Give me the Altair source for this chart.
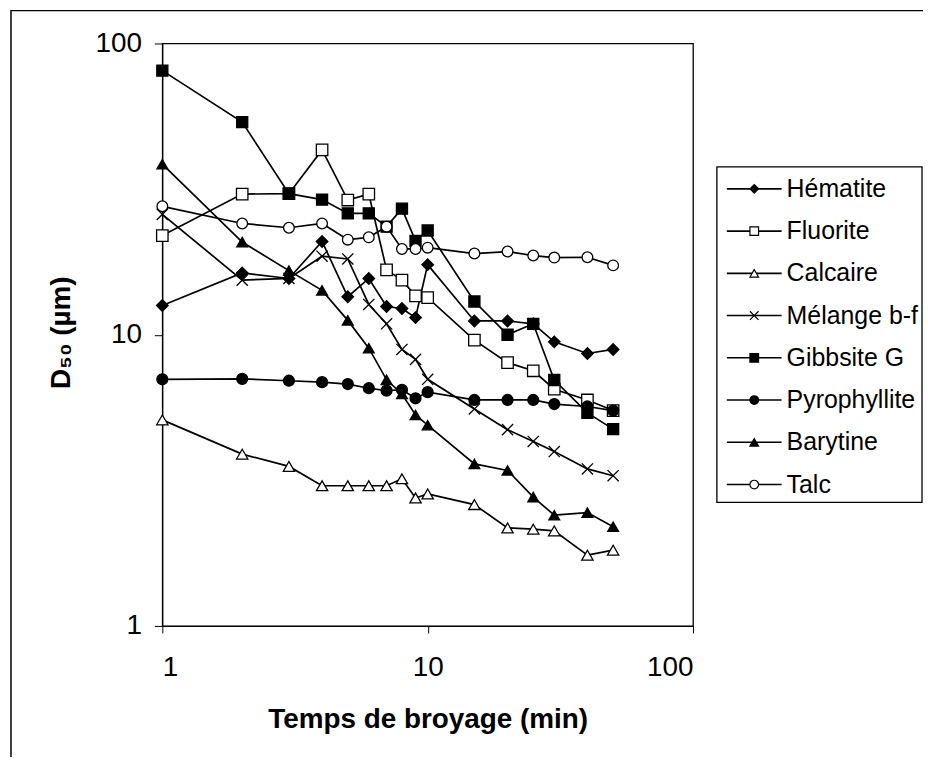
import altair as alt
import pandas as pd

# ---- data (log-log plot) ----
times = [1, 2, 3, 4, 5, 6, 7, 8, 9, 10, 15, 20, 25, 30, 40, 50]
series = ["Hématite", "Fluorite", "Calcaire", "Mélange b-f",
          "Gibbsite G", "Pyrophyllite", "Barytine", "Talc"]
hematite = [12.6, 16.3, 15.6, 20.9, 13.5, 15.6, 12.5, 12.3, 11.45, 17.4, 11.15, 11.15, 10.9, 9.45, 8.62, 8.9]
fluorite = [21.9, 30.4, 30.5, 43.1, 29.0, 30.4, 16.7, 15.4, 13.6, 13.4, 9.58, 8.02, 7.52, 6.5, 5.97, 5.49]
calcaire = [5.1, 3.89, 3.53, 3.03, 3.03, 3.03, 3.03, 3.2, 2.75, 2.84, 2.61, 2.17, 2.15, 2.12, 1.75, 1.82]
melange = [25.9, 15.4, 15.6, 18.6, 18.2, 12.7, 10.9, 8.9, 8.23, 7.03, 5.56, 4.72, 4.3, 3.97, 3.46, 3.28]
gibbsite = [80.7, 53.7, 30.5, 29.1, 26.1, 26.1, 23.5, 27.1, 21.0, 22.8, 13.0, 10.0, 10.9, 6.99, 5.39, 4.74]
pyrophyllite = [7.03, 7.05, 6.95, 6.87, 6.77, 6.55, 6.43, 6.47, 6.05, 6.35, 5.97, 5.97, 5.97, 5.78, 5.67, 5.49]
barytine = [38.5, 20.8, 16.6, 14.2, 11.2, 8.99, 7.0, 6.26, 5.3, 4.89, 3.6, 3.42, 2.77, 2.40, 2.45, 2.19]
talc = [27.6, 24.1, 23.3, 24.1, 21.2, 21.6, 23.5, 19.7, 19.7, 19.9, 19.0, 19.3, 18.7, 18.4, 18.45, 17.3]

values = [hematite, fluorite, calcaire, melange, gibbsite, pyrophyllite, barytine, talc]
rows = []
for name, vals in zip(series, values):
    for t, v in zip(times, vals):
        rows.append({"serie": name, "t": t, "d50": v})
df = pd.DataFrame(rows)
legend_df = pd.DataFrame({"serie": series})

# ---- styles ----
FONT = "Liberation Sans"
X_PATH = "M-1,-1L1,1M-1,1L1,-1"
plot_shapes = ["diamond", "square", "triangle-up", X_PATH, "square", "circle", "triangle-up", "circle"]
fills = ["black", "white", "white", "transparent", "black", "black", "black", "white"]
plot_sizes = [135, 115, 125, 150, 120, 80, 125, 85]

shape_scale = alt.Scale(domain=series, range=plot_shapes)
fill_scale = alt.Scale(domain=series, range=fills)

W, H = 533, 585

x_enc = alt.X("t:Q",
              scale=alt.Scale(type="log", domain=[1, 100], nice=False),
              axis=alt.Axis(values=[1, 10, 100], labelExpr="datum.value",
                            title="Temps de broyage (min)", grid=False,
                            tickSize=7, labelPadding=21, labelFontSize=28,
                            titleFontSize=28, titleFontWeight="bold",
                            titleY=80, titleBaseline="top", titleFont=FONT, labelFont=FONT,
                            domainColor="black", tickColor="black", labelColor="black",
                            titleColor="black"))
y_scale = alt.Scale(type="log", domain=[1, 100], nice=False)
y_enc = alt.Y("d50:Q", scale=y_scale,
              axis=alt.Axis(values=[1, 10, 100], labelExpr="datum.value",
                            title="D₅₀ (µm)", grid=False,
                            tickSize=8, labelPadding=13, labelFontSize=28,
                            titleFontSize=28, titleFontWeight="bold",
                            titleX=-101, titleY=290, titleAngle=-90,
                            titleAlign="center", titleBaseline="middle",
                            titleFont=FONT, labelFont=FONT,
                            domainColor="black", tickColor="black", labelColor="black",
                            titleColor="black"))

base = alt.Chart(df)

lines = base.mark_line(color="black", strokeWidth=1.7).encode(
    x=x_enc, y=y_enc, detail="serie:N", order="t:Q")

points = base.mark_point(stroke="black", strokeWidth=1.3, opacity=1, fillOpacity=1).encode(
    x="t:Q",
    y=alt.Y("d50:Q", scale=y_scale, axis=None),
    shape=alt.Shape("serie:N", scale=shape_scale, legend=None),
    fill=alt.Fill("serie:N", scale=fill_scale, legend=None),
    size=alt.Size("serie:N", scale=alt.Scale(domain=series, range=plot_sizes), legend=None),
)

# ---- hand-built legend (Excel style: line + marker + label) ----
ly = alt.Y("serie:N", scale=alt.Scale(type="point", domain=series, range=[146, 443], padding=0),
           axis=None)

leg_box = alt.Chart(pd.DataFrame({"k": [0]})).mark_rect(
    fill="white", stroke="black", strokeWidth=1.3).encode(
    x=alt.value(557), x2=alt.value(763), y=alt.value(124), y2=alt.value(461))

leg_rules = alt.Chart(legend_df).mark_rule(color="black", strokeWidth=1.6).encode(
    x=alt.value(567), x2=alt.value(622), y=ly)

leg_marks = alt.Chart(legend_df).mark_point(
    stroke="black", strokeWidth=1.2, opacity=1, fillOpacity=1, size=75).encode(
    x=alt.value(594.5), y=ly,
    shape=alt.Shape("serie:N", scale=shape_scale, legend=None),
    fill=alt.Fill("serie:N", scale=fill_scale, legend=None),
)

leg_text = alt.Chart(legend_df).mark_text(
    align="left", baseline="middle", fontSize=25, font=FONT, color="black").encode(
    x=alt.value(627), y=ly, text="serie:N")

frame = alt.Chart(pd.DataFrame({"k": [0]})).mark_rect(
    fillOpacity=0, stroke="black", strokeWidth=1.5).encode(
    x=alt.value(-152), x2=alt.value(900), y=alt.value(-33), y2=alt.value(900))

chart = alt.layer(frame, lines, points, leg_box, leg_rules, leg_marks, leg_text).resolve_scale(
    y="independent"
).properties(
    width=W, height=H,
    autosize=alt.AutoSizeParams(type="none"),
    padding={"left": 155, "top": 34, "right": 231, "bottom": 130},
    background="white",
).configure_view(stroke="black", strokeWidth=1.3)

chart.save("out.html", embed_options={"renderer": "svg", "actions": False})
